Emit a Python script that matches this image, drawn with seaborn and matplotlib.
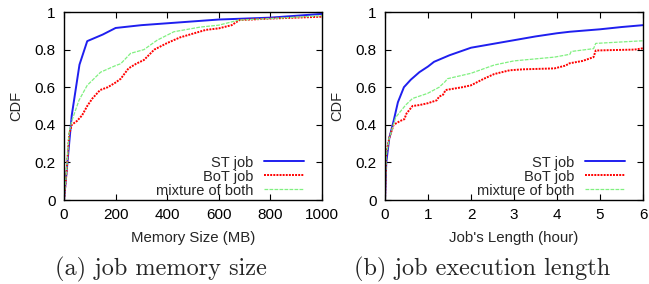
import matplotlib
matplotlib.use("Agg")
import matplotlib.pyplot as plt
import seaborn as sns
import pandas as pd

# ---- data: memory size (MB) CDF ----
mem_st_x = [0, 10, 30, 60, 90, 150, 200, 300, 400, 500, 600, 800, 900, 1000]
mem_st_y = [0, 0.15, 0.45, 0.72, 0.845, 0.88, 0.915, 0.93, 0.94, 0.95, 0.96, 0.97, 0.98, 0.99]
mem_bot_x = [0, 10, 20, 30, 50, 70, 90, 110, 140, 170, 200, 220, 250, 280, 310, 350, 400, 450, 500, 550, 600, 650, 680, 800, 1000]
mem_bot_y = [0, 0.15, 0.35, 0.40, 0.42, 0.45, 0.50, 0.54, 0.585, 0.60, 0.625, 0.645, 0.70, 0.725, 0.745, 0.80, 0.835, 0.865, 0.885, 0.905, 0.913, 0.93, 0.957, 0.965, 0.975]
mem_mix_x = [0, 10, 20, 30, 58, 90, 142, 200, 220, 258, 310, 361, 426, 529, 600, 677, 800, 1000]
mem_mix_y = [0, 0.16, 0.36, 0.42, 0.53, 0.61, 0.68, 0.715, 0.725, 0.78, 0.80, 0.85, 0.895, 0.92, 0.93, 0.957, 0.965, 0.98]

# ---- data: job length (hour) CDF ----
len_st_x = [0, 0.03, 0.1, 0.2, 0.3, 0.44, 0.6, 0.8, 1.0, 1.14, 1.5, 2.0, 2.5, 3.0, 3.5, 4.0, 4.3, 5.0, 5.5, 6.0]
len_st_y = [0, 0.2, 0.33, 0.42, 0.52, 0.60, 0.64, 0.68, 0.71, 0.735, 0.77, 0.81, 0.83, 0.85, 0.87, 0.887, 0.895, 0.908, 0.92, 0.93]
len_bot_x = [0, 0.03, 0.1, 0.2, 0.35, 0.45, 0.5, 0.64, 0.8, 1.0, 1.2, 1.26, 1.35, 1.41, 1.8, 2.0, 2.3, 2.54, 2.9, 3.2, 3.94, 4.2, 4.29, 4.6, 4.85, 4.9, 5.2, 5.8, 6.0]
len_bot_y = [0, 0.25, 0.33, 0.40, 0.42, 0.43, 0.46, 0.50, 0.505, 0.515, 0.53, 0.55, 0.56, 0.585, 0.60, 0.61, 0.645, 0.67, 0.69, 0.695, 0.70, 0.715, 0.727, 0.74, 0.76, 0.795, 0.797, 0.80, 0.807]
len_mix_x = [0, 0.03, 0.1, 0.25, 0.48, 0.64, 0.99, 1.26, 1.4, 1.45, 2.0, 2.54, 3.0, 3.94, 4.3, 4.33, 4.85, 4.9, 6.0]
len_mix_y = [0, 0.24, 0.33, 0.44, 0.505, 0.54, 0.567, 0.60, 0.63, 0.645, 0.674, 0.718, 0.74, 0.76, 0.775, 0.79, 0.805, 0.833, 0.847]

labels = ["ST job", "BoT job", "mixture of both"]
xlabels = ["Memory Size (MB)", "Job's Length (hour)"]
captions = ["(a) job memory size", "(b) job execution length"]

sns.set_style("ticks")
plt.rcParams["font.family"] = ["Liberation Sans", "DejaVu Sans"]

fig = plt.figure(figsize=(6.49, 2.84), dpi=100)
ax1 = fig.add_axes([64 / 649, 84 / 284, 258 / 649, 188 / 284])
ax2 = fig.add_axes([385 / 649, 84 / 284, 258 / 649, 188 / 284])

styles = [
    dict(color="#1f1fef", lw=1.4, ls="-"),
    dict(color="#ff0000", lw=1.4, ls=(0, (1, 0.6))),
    dict(color="#80f080", lw=0.9, ls=(0, (3, 1))),
]

panels = [
    (ax1, [(mem_st_x, mem_st_y), (mem_bot_x, mem_bot_y), (mem_mix_x, mem_mix_y)],
     (0, 1000), [0, 200, 400, 600, 800, 1000], 161 / 649),
    (ax2, [(len_st_x, len_st_y), (len_bot_x, len_bot_y), (len_mix_x, len_mix_y)],
     (0, 6), [0, 1, 2, 3, 4, 5, 6], 482 / 649),
]

for i, (ax, series, xlim, xticks, capx) in enumerate(panels):
    for (xs, ys), lab, st in zip(series, labels, styles):
        df = pd.DataFrame({"x": xs, "y": ys})
        sns.lineplot(data=df, x="x", y="y", ax=ax, label=lab, sort=False, **st)
    ax.set_xlim(*xlim)
    ax.set_ylim(0, 1)
    ax.set_xticks(xticks)
    ax.set_yticks([0, 0.2, 0.4, 0.6, 0.8, 1])
    ax.set_yticklabels(["0", "0.2", "0.4", "0.6", "0.8", "1"])
    ax.tick_params(direction="in", length=4, width=0.8, labelsize=11,
                   top=True, right=True, pad=6, colors="black")
    for s in ax.spines.values():
        s.set_linewidth(1.0)
        s.set_color("black")
    ax.set_xlabel(xlabels[i], fontsize=10.8, labelpad=6.5)
    ax.set_ylabel("CDF", fontsize=10.5, labelpad=8)
    ax.legend(loc="lower right", bbox_to_anchor=(0.93, 0.013), frameon=False,
              markerfirst=False, fontsize=10.5, handlelength=2.75,
              handletextpad=0.7, labelspacing=0.0, borderaxespad=0.0,
              borderpad=0.0)
    fig.text(capx, 0.05, captions[i], family=["cmr10", "DejaVu Serif"],
             fontsize=17.5, ha="center", va="center")

fig.savefig("out.png", dpi=100)
